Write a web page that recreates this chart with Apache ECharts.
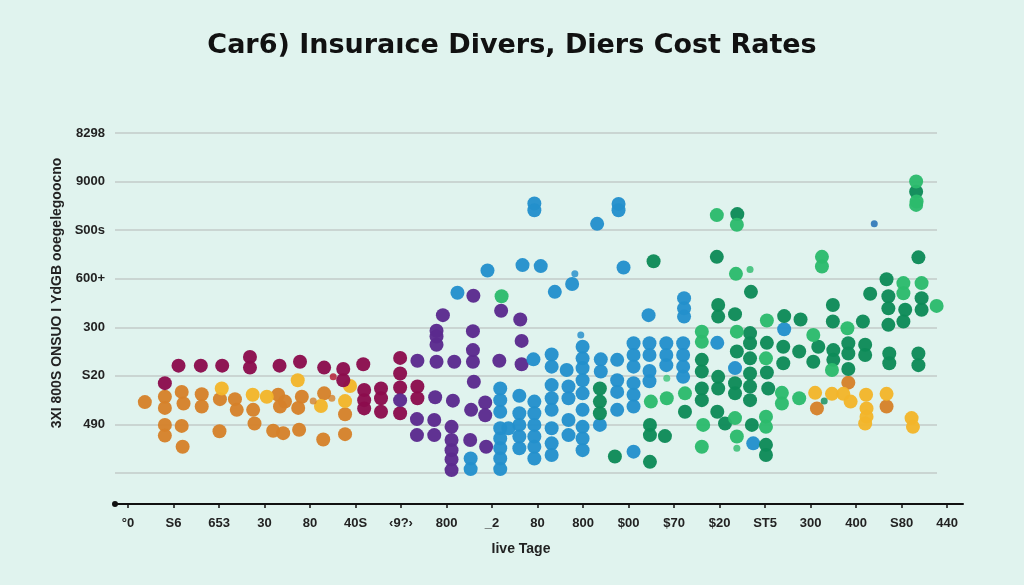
<!DOCTYPE html>
<html>
<head>
<meta charset="utf-8">
<script src="https://cdn.jsdelivr.net/npm/echarts@6/dist/echarts.min.js"></script>
<style>
html,body{margin:0;padding:0;background:#e0f3ee;}
#chart{width:1024px;height:585px;}
</style>
</head>
<body>
<div id="chart"></div>
<script>
const titleText = 'Car6) Insuraıce Divers, Diers Cost Rates';
const xAxisName = 'Iive Tage';
const yAxisName = '3XI 800S ONSUO I YdGB ooegelegoocno';
const xLabels = ['°0','S6','653','30','80','40S','‹9?›','800','_2','80','800','$00','$70','$20','ST5','300','400','S80','440'];
const yLabels = ['', '490', 'S20', '300', '600+', 'S00s', '9000', '8298'];

const orangeDots = [[0.37,1.46],[0.81,1.57],[0.81,1.34],[0.81,0.99],[0.81,0.77],[1.18,1.67],[1.22,1.43],[1.18,0.97],[1.20,0.54],[1.62,1.62],[1.62,1.37],[2.02,1.52],[2.01,0.86],[2.35,1.52],[2.39,1.30],[2.75,1.30],[2.78,1.02],[3.30,1.61],[3.34,1.37],[3.45,1.47],[3.19,0.87],[3.41,0.82],[3.76,0.89],[3.82,1.57],[3.74,1.34],[4.31,1.64],[4.29,0.69],[4.77,1.21],[4.77,0.80],[16.67,1.37],[15.14,1.33],[15.83,1.86]];
const goldDots = [[2.06,1.74],[2.74,1.61],[3.05,1.57],[3.73,1.91],[4.24,1.38],[4.77,1.48],[4.88,1.79],[15.10,1.65],[15.47,1.63],[15.72,1.63],[15.88,1.47],[16.22,1.61],[16.23,1.33],[16.23,1.16],[16.20,1.02],[16.67,1.63],[17.22,1.13],[17.25,0.95]];
const maroonDots = [[1.11,2.21],[1.60,2.21],[2.07,2.21],[2.68,2.39],[2.68,2.17],[3.33,2.21],[3.78,2.29],[4.31,2.17],[4.73,2.14],[4.73,1.91],[5.17,2.24],[0.81,1.85],[5.19,1.71],[5.19,1.50],[5.19,1.33],[5.56,1.74],[5.56,1.54],[5.56,1.26],[5.98,2.37],[5.98,2.05],[5.98,1.76],[5.98,1.23],[6.36,1.78],[6.36,1.54]];
const purpleDots = [[5.98,1.50],[7.59,3.65],[6.92,3.25],[8.20,3.34],[8.62,3.16],[6.78,2.93],[6.78,2.81],[6.78,2.64],[7.58,2.92],[7.58,2.53],[8.65,2.72],[8.65,2.24],[8.16,2.31],[6.36,2.31],[6.78,2.29],[7.17,2.29],[7.58,2.29],[7.60,1.88],[6.75,1.56],[7.14,1.49],[7.54,1.30],[7.85,1.45],[7.85,1.19],[6.35,1.11],[6.35,0.78],[6.73,1.09],[6.73,0.78],[7.11,0.95],[7.11,0.68],[7.11,0.47],[7.11,0.28],[7.11,0.06],[7.52,0.68],[7.87,0.54]];
const blueDots = [[8.93,5.55],[8.93,5.41],[10.78,5.54],[10.78,5.41],[10.31,5.13],[7.90,4.17],[8.67,4.28],[9.07,4.26],[10.89,4.23],[9.76,3.89],[9.38,3.73],[7.24,3.71],[7.53,0.30],[7.53,0.08],[8.18,1.74],[8.18,1.50],[8.18,1.26],[8.18,0.92],[8.18,0.71],[8.18,0.51],[8.18,0.30],[8.18,0.08],[8.36,0.92],[8.60,1.59],[8.60,1.23],[8.60,0.99],[8.60,0.75],[8.60,0.51],[8.91,2.34],[8.93,1.47],[8.93,1.23],[8.93,0.99],[8.93,0.75],[8.93,0.54],[8.93,0.30],[9.31,2.44],[9.31,2.19],[9.31,1.81],[9.31,1.54],[9.31,1.30],[9.31,0.92],[9.31,0.61],[9.31,0.37],[9.64,2.12],[9.68,1.78],[9.68,1.54],[9.68,1.09],[9.68,0.78],[9.99,2.60],[9.99,2.36],[9.99,2.16],[9.99,1.91],[9.99,1.64],[9.99,1.30],[9.99,0.95],[9.99,0.71],[9.99,0.47],[10.39,2.34],[10.39,2.09],[10.37,0.99],[10.75,2.33],[10.75,1.91],[10.75,1.67],[10.75,1.30],[11.11,2.67],[11.11,2.43],[11.11,2.19],[11.11,1.85],[11.11,1.61],[11.11,1.37],[11.11,0.44],[11.44,3.25],[11.46,2.67],[11.46,2.43],[11.46,2.10],[11.46,1.89],[11.83,2.67],[11.83,2.43],[11.83,2.22],[12.22,3.60],[12.22,3.39],[12.22,3.22],[12.20,2.67],[12.20,2.43],[12.20,2.19],[12.20,1.98],[12.95,2.68],[14.42,2.96],[13.74,0.61],[13.34,2.16]];
const darkGreenDots = [[11.55,4.36],[13.39,5.33],[12.94,4.45],[17.37,4.44],[13.69,3.73],[16.67,3.99],[17.44,3.60],[17.44,3.36],[16.31,3.69],[16.71,3.64],[16.71,3.39],[16.71,3.05],[17.08,3.36],[17.04,3.12],[15.49,3.46],[15.49,3.12],[16.15,3.12],[16.20,2.64],[16.20,2.43],[15.83,2.67],[15.83,2.46],[15.83,2.14],[15.50,2.53],[15.50,2.33],[15.17,2.60],[15.06,2.29],[16.73,2.46],[16.73,2.26],[17.37,2.46],[17.37,2.22],[12.97,3.46],[12.97,3.22],[13.34,3.27],[14.78,3.16],[14.42,3.23],[14.40,2.60],[14.40,2.26],[14.75,2.50],[14.04,2.68],[14.04,2.07],[14.07,1.74],[13.67,2.88],[13.67,2.67],[13.67,2.36],[13.67,2.05],[13.67,1.78],[13.67,1.50],[13.38,2.50],[13.34,1.85],[13.34,1.64],[12.61,2.33],[12.61,2.09],[12.61,1.74],[12.61,1.50],[12.97,1.98],[12.97,1.74],[12.95,1.26],[13.12,1.02],[12.24,1.26],[13.71,0.99],[14.02,0.58],[14.02,0.37],[11.47,0.99],[11.47,0.78],[11.80,0.76],[11.47,0.23],[10.37,1.74],[10.37,1.47],[10.37,1.23],[10.70,0.34],[17.32,5.79]];
const lightGreenDots = [[8.21,3.64],[12.94,5.31],[13.38,5.11],[15.25,4.45],[15.25,4.25],[13.36,4.10],[17.04,3.91],[17.04,3.70],[17.44,3.91],[17.77,3.44],[14.04,3.14],[15.06,2.84],[15.81,2.98],[12.61,2.91],[12.61,2.70],[13.38,2.91],[14.02,2.36],[15.47,2.12],[11.49,1.47],[11.84,1.54],[12.24,1.64],[12.64,0.99],[12.61,0.54],[13.34,1.13],[13.38,0.75],[14.02,1.16],[14.02,0.95],[14.37,1.65],[14.37,1.43],[14.75,1.54],[17.32,6.00],[17.33,5.59],[17.32,5.52]];
const smallDots = [[4.51,1.98],[9.82,4.10],[9.95,2.84],[16.40,5.13],[13.67,4.19],[11.84,1.95],[15.30,1.48],[13.38,0.51],[4.07,1.48],[4.48,1.54]];
const smallColors = ['#b3122a','#1f8bc9','#1f8bc9','#1565b0','#2cba6c','#3cc47a','#0d8a57','#2cba6c','#d5812a','#d5812a'];

const chart = echarts.init(document.getElementById('chart'));
function dots(name, data, color, size) {
  return {
    name: name, type: 'scatter', xAxisIndex: 0, yAxisIndex: 0,
    data: data, symbolSize: size,
    itemStyle: { color: color, opacity: 0.96 },
    silent: true
  };
}
chart.setOption({
  backgroundColor: '#e0f3ee',
  animation: false,
  title: {
    text: titleText, left: 'center', top: 27,
    textStyle: { fontFamily: 'DejaVu Sans', fontWeight: 'bold', fontSize: 27, color: '#111' }
  },
  grid: [
    { left: 115, right: 61, top: 133, bottom: 112 },
    { left: 115, right: 87, top: 133, bottom: 112 }
  ],
  xAxis: [
    {
      type: 'value', gridIndex: 0, min: -0.286, max: 18.35, offset: 31,
      name: xAxisName, nameLocation: 'middle', nameGap: 38,
      nameTextStyle: { fontFamily: 'Liberation Sans', fontWeight: 'bold', fontSize: 14, color: '#222', padding: [0, 36, 0, 0] },
      axisLine: { show: true, onZero: false, symbol: ['circle', 'none'], symbolSize: [6, 6], lineStyle: { color: '#111', width: 2 } },
      axisTick: { show: true, length: 4, customValues: xLabels.map((_, i) => i), lineStyle: { color: '#111', width: 1.5 } },
      axisLabel: {
        customValues: xLabels.map((_, i) => i), margin: 13,
        formatter: v => xLabels[Math.round(v)] || '',
        fontFamily: 'Liberation Sans', fontWeight: 'bold', fontSize: 13, color: '#222'
      },
      splitLine: { show: false }
    },
    { type: 'value', gridIndex: 1, min: 0, max: 1, show: false }
  ],
  yAxis: [
    {
      type: 'value', gridIndex: 0, min: 0, max: 7, interval: 1,
      name: yAxisName, nameLocation: 'middle', nameGap: 45, nameRotate: 90,
      nameTextStyle: { fontFamily: 'Liberation Sans', fontWeight: 'bold', fontSize: 14, color: '#222', padding: [0, 0, 0, 20] },
      axisLine: { show: false }, axisTick: { show: false },
      axisLabel: {
        formatter: v => yLabels[Math.round(v)] || '', margin: 10,
        fontFamily: 'Liberation Sans', fontWeight: 'bold', fontSize: 13, color: '#222'
      },
      splitLine: { show: false }
    },
    {
      type: 'value', gridIndex: 1, min: 0, max: 7, interval: 1,
      axisLine: { show: false }, axisTick: { show: false }, axisLabel: { show: false },
      splitLine: { show: true, lineStyle: { color: '#c3cbc8', width: 1.5 } }
    }
  ],
  series: [
    dots('orange', orangeDots, '#d5812a', 14),
    dots('gold', goldDots, '#f2b52a', 14),
    dots('maroon', maroonDots, '#8b0d4d', 14),
    dots('purple', purpleDots, '#5b2a8e', 14),
    dots('blue', blueDots, '#2390cc', 14),
    dots('darkgreen', darkGreenDots, '#0e8a57', 14),
    dots('lightgreen', lightGreenDots, '#2cba6c', 14),
    {
      name: 'small', type: 'scatter', data: smallDots, symbolSize: 7, silent: true,
      itemStyle: { color: p => smallColors[p.dataIndex] }
    }
  ]
});
</script>
</body>
</html>
